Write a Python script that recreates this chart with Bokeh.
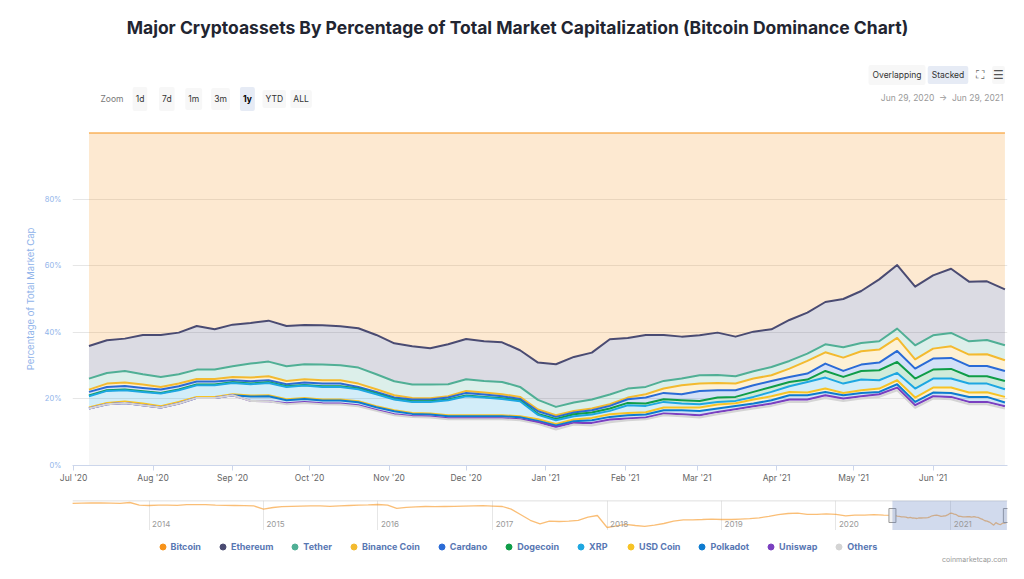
import numpy as np
import pandas as pd
from bokeh.plotting import figure
from bokeh.models import (ColumnDataSource, Range1d, FixedTicker, DatetimeTickFormatter,
                          MonthsTicker, Label, Legend, LegendItem, BoxAnnotation, Span, Grid)
from bokeh.layouts import column
from bokeh.embed import file_html
from bokeh.resources import INLINE
from bokeh.transform import stack

FONT = "Inter"

# ---------------- data (weekly shares, % of total market cap) ----------------
dates = pd.date_range("2020-07-07", periods=52, freq="7D")

btc = [64.1, 62.4, 61.9, 60.8, 60.8, 60.1, 58.1, 59.1, 57.7, 57.2, 56.5, 58.1, 57.8, 57.9, 58.2, 58.8,
       60.8, 63.3, 64.2, 64.8, 63.6, 62.0, 62.7, 63.0, 65.4, 69.1, 69.6, 67.4, 66.1, 62.1, 61.7, 60.8,
       60.8, 61.3, 60.9, 60.1, 61.3, 59.8, 59.1, 56.3, 54.1, 50.9, 50.0, 47.6, 44.1, 39.8, 46.3, 42.9,
       40.9, 44.8, 44.7, 47.1]
eth = [9.8, 9.8, 9.7, 11.8, 12.6, 12.5, 13.1, 12.1, 12.5, 12.2, 12.3, 12.1, 11.8, 11.8, 11.7, 11.8,
       11.8, 11.4, 11.5, 10.9, 12.0, 12.1, 11.9, 11.9, 11.0, 11.2, 12.8, 13.7, 14.1, 16.6, 15.2, 15.6,
       13.8, 12.6, 12.0, 12.7, 11.9, 11.9, 11.3, 12.3, 12.3, 12.7, 14.5, 15.6, 18.6, 19.1, 17.6, 18.0,
       19.3, 17.9, 17.6, 16.8]
tether = [3.3, 3.2, 3.5, 3.1, 3.0, 2.8, 2.8, 2.8, 3.2, 4.2, 4.4, 4.4, 4.5, 4.7, 4.5, 4.8,
          4.5, 4.2, 4.0, 4.1, 3.6, 3.5, 3.5, 3.7, 3.0, 2.9, 2.5, 2.5, 2.7, 2.9, 2.7, 2.2,
          2.3, 2.0, 2.5, 2.4, 2.2, 2.2, 2.5, 2.3, 2.2, 2.4, 3.1, 2.5, 2.5, 2.8, 4.2, 4.0,
          4.0, 4.0, 4.3, 4.5]
bnb = [0.7, 1.0, 1.0, 1.0, 0.8, 0.8, 0.8, 0.8, 1.0, 1.1, 1.2, 1.0, 1.0, 1.0, 1.0, 1.0,
       0.8, 0.7, 0.5, 0.4, 0.4, 0.6, 0.6, 0.6, 0.6, 0.5, 0.5, 0.5, 0.5, 0.5, 0.5, 1.0,
       1.3, 2.7, 2.2, 2.2, 2.0, 2.0, 1.7, 2.5, 3.8, 3.4, 4.0, 4.0, 3.9, 3.9, 2.8, 3.0,
       3.5, 3.4, 3.5, 3.2]
cardano = [1.1, 1.0, 1.1, 1.0, 1.0, 1.0, 0.9, 0.9, 0.6, 0.7, 0.6, 0.6, 0.7, 0.8, 0.8, 0.5,
           0.5, 0.4, 0.5, 0.5, 0.6, 0.8, 0.7, 0.6, 0.5, 0.8, 0.6, 0.5, 0.7, 0.8, 1.1, 1.8,
           1.9, 1.8, 3.0, 2.2, 2.0, 2.0, 1.8, 1.5, 1.8, 2.2, 1.8, 1.9, 2.3, 3.3, 3.0, 3.3,
           3.3, 3.1, 3.1, 3.0]
doge = [0.2, 0.2, 0.2, 0.2, 0.2, 0.2, 0.2, 0.2, 0.2, 0.2, 0.2, 0.2, 0.2, 0.2, 0.2, 0.2,
        0.2, 0.2, 0.2, 0.2, 0.2, 0.2, 0.2, 0.2, 0.2, 0.3, 0.4, 0.6, 0.6, 0.7, 0.7, 0.7,
        0.8, 1.0, 1.0, 1.3, 1.2, 1.5, 1.5, 1.3, 0.7, 2.0, 2.0, 2.6, 3.0, 3.3, 3.0, 2.7,
        2.9, 2.2, 2.2, 2.5]
xrp = [3.4, 3.6, 3.4, 3.5, 3.8, 3.5, 3.5, 3.5, 3.4, 3.4, 3.7, 3.7, 3.7, 3.8, 3.8, 3.6,
       3.6, 3.2, 3.3, 3.5, 4.5, 5.7, 5.3, 4.9, 4.5, 1.3, 1.1, 1.0, 1.0, 1.0, 2.3, 1.9,
       1.7, 1.2, 1.0, 0.8, 0.7, 0.8, 1.3, 1.7, 3.2, 3.3, 2.8, 3.2, 2.5, 2.2, 2.7, 2.7,
       2.7, 2.7, 2.6, 2.3]
usdc = [0.3, 0.4, 0.4, 0.5, 0.4, 0.5, 0.3, 0.3, 0.3, 0.3, 0.3, 0.3, 0.3, 0.3, 0.3, 0.3,
        0.3, 0.3, 0.3, 0.3, 0.3, 0.3, 0.3, 0.3, 0.3, 0.5, 0.5, 0.5, 0.7, 0.8, 0.7, 0.7,
        0.8, 0.8, 1.0, 1.2, 0.8, 1.2, 1.2, 1.0, 0.8, 1.0, 0.7, 0.8, 1.0, 1.2, 1.3, 1.5,
        1.6, 1.3, 1.4, 1.7]
polkadot = [0.0, 0.0, 0.0, 0.0, 0.0, 0.0, 0.0, 0.0, 0.0, 1.3, 1.5, 0.9, 0.9, 0.8, 0.9, 0.9,
            0.8, 0.9, 0.6, 0.6, 0.6, 0.6, 0.6, 0.6, 0.6, 0.4, 0.4, 0.5, 0.8, 0.8, 1.0, 0.9,
            1.0, 1.2, 1.3, 1.0, 1.0, 0.8, 1.0, 1.3, 1.3, 1.0, 1.0, 1.0, 0.7, 1.0, 1.0, 1.1,
            1.2, 1.5, 1.5, 1.1]
uniswap = [0.0, 0.0, 0.0, 0.0, 0.0, 0.0, 0.0, 0.0, 0.0, 0.0, 0.0, 0.3, 0.3, 0.3, 0.3, 0.3,
           0.3, 0.3, 0.3, 0.3, 0.3, 0.3, 0.3, 0.3, 0.3, 0.5, 0.8, 0.5, 0.8, 0.8, 0.5, 0.5,
           0.5, 0.6, 0.7, 0.7, 0.6, 0.7, 0.7, 0.7, 0.7, 0.8, 0.7, 0.7, 0.8, 0.8, 0.8, 0.7,
           0.7, 0.7, 0.7, 0.7]
others = [17.1, 18.4, 18.8, 18.1, 17.4, 18.6, 20.3, 20.3, 21.1, 19.4, 19.3, 18.4, 18.8, 18.4, 18.3, 17.8,
          16.4, 15.1, 14.6, 14.4, 13.9, 13.9, 13.9, 13.9, 13.6, 12.5, 10.8, 12.3, 12.0, 13.0, 13.6, 13.9,
          15.1, 14.8, 14.4, 15.4, 16.3, 17.1, 17.9, 19.1, 19.1, 20.3, 19.4, 20.1, 20.6, 22.6, 17.3, 20.1,
          19.9, 18.4, 18.4, 17.1]

series_names = ["Bitcoin", "Ethereum", "Tether", "Binance Coin", "Cardano", "Dogecoin",
                "XRP", "USD Coin", "Polkadot", "Uniswap", "Others"]
series_keys = ["btc", "eth", "tether", "bnb", "cardano", "doge", "xrp", "usdc", "polkadot", "uniswap", "others"]
series_values = [btc, eth, tether, bnb, cardano, doge, xrp, usdc, polkadot, uniswap, others]
series_colors = ["#f7931a", "#4a4b72", "#50af95", "#f3ba2f", "#2a6bd6", "#0f9d48",
                 "#1ea7e1", "#f7c325", "#0d7bd0", "#7a3fc0", "#d4d4d4"]

# Navigator: monthly Bitcoin dominance May 2013 - Jun 2020 (then the weekly series above)
nav_dates_hist = pd.date_range("2013-05-01", periods=86, freq="MS")
nav_btc_hist = [94.5, 95.0, 95.2, 95.5, 95.0, 94.5, 96.5, 90.0,
                89.0, 90.0, 90.0, 89.5, 91.0, 91.0, 91.0, 90.0, 89.5, 89.0, 88.5, 88.0,
                80.0, 84.0, 86.0, 87.0, 87.5, 88.0, 88.0, 87.0, 88.0, 89.0, 90.0, 90.5,
                91.5, 90.0, 82.0, 84.5, 85.5, 86.5, 86.0, 86.5, 87.0, 87.5, 88.0, 88.5,
                87.5, 86.5, 80.0, 66.0, 52.0, 43.0, 50.0, 49.0, 50.0, 52.0, 60.0, 64.0,
                34.0, 38.0, 42.0, 39.0, 37.0, 40.0, 44.0, 50.0, 53.0, 53.0, 54.0, 55.0,
                54.0, 54.0, 55.0, 56.0, 58.0, 62.0, 66.0, 69.0, 70.0, 67.0, 67.0, 68.0,
                67.0, 63.0, 65.0, 65.0, 66.0, 65.0]
nav_years = [2014, 2015, 2016, 2017, 2018, 2019, 2020, 2021]

y_ticks = [0, 20, 40, 60, 80, 100]
y_tick_labels = ["0%", "20%", "40%", "60%", "80%", ""]

zoom_buttons = ["1d", "7d", "1m", "3m", "1y", "YTD", "ALL"]
selected_zoom = "1y"
range_text = "Jun 29, 2020\u00a0\u00a0→\u00a0\u00a0Jun 29, 2021"

# ---------------- build data table (percent stacking) ----------------
df = pd.DataFrame({k: v for k, v in zip(series_keys, series_values)})
total = df.sum(axis=1)
for k in series_keys:
    df[k] = df[k] / total * 100.0
df["date"] = dates
src = ColumnDataSource(df)

bottom_to_top = list(reversed(series_keys))
colors_btt = list(reversed(series_colors))

W = 1024
FL, FR = 72, 1007          # page x of plot frame left / right (frames of the column are aligned)
HEAD_H, MAIN_H, NAV_H, FOOT_H = 130, 360, 40, 49


def blank_fig(h):
    f = figure(width=W, height=h, x_axis_type=None, y_axis_type=None,
               x_range=Range1d(0, 1), y_range=Range1d(0, 1),
               output_backend="svg", toolbar_location=None,
               min_border_left=FL, min_border_right=W - FR, min_border_top=0, min_border_bottom=0)
    f.outline_line_color = None
    f.grid.visible = False
    return f


def add_label(fig, fig_top, px, py, text, size, color, align="left", style="normal", bg=None, pad=0, font=FONT):
    """place text at page coords (px, py) inside a blank figure whose top is at page y fig_top"""
    kw = {}
    if bg is not None:
        kw["background_fill_color"] = bg
        kw["padding"] = pad
        kw["border_radius"] = 2
    h = fig.height
    fig.add_layout(Label(x=px - FL, y=h - (py - fig_top), x_units="screen", y_units="screen", text=text,
                         text_font=font, text_font_size=size, text_color=color,
                         text_align=align, text_baseline="middle", text_font_style=style, **kw))


# ---------------- header ----------------
head = blank_fig(HEAD_H)
add_label(head, 0, 517, 27, "Major Cryptoassets By Percentage of Total Market Capitalization (Bitcoin Dominance Chart)",
          "17.5px", "#222531", align="center", style="bold")
add_label(head, 0, 100, 98.5, "Zoom", "8.5px", "#777777")
btn_w = {"1d": 7, "7d": 7, "1m": 6, "3m": 6, "1y": 7, "YTD": 4, "ALL": 4}
for j, b in enumerate(zoom_buttons):
    cx = 139.5 + j * 26.85
    sel = (b == selected_zoom)
    add_label(head, 0, cx, 98.5, b, "8.5px", "#000000" if sel else "#333333", align="center",
              style="bold" if sel else "normal", bg="#e6ebf5" if sel else "#f7f7f7",
              pad=(3, btn_w[b]))
add_label(head, 0, 896.5, 74.5, "Overlapping", "8.5px", "#333333", align="center", bg="#f7f7f7", pad=(4, 5))
add_label(head, 0, 947.5, 74.5, "Stacked", "8.5px", "#333333", align="center", bg="#e6ebf5", pad=(4, 4))
add_label(head, 0, 979, 74.5, "⛶", "12px", "#666666", align="center", font="DejaVu Sans")
add_label(head, 0, 998, 74.5, "☰", "12px", "#555555", align="center", bg="#f7f7f7", pad=(1, 2), font="DejaVu Sans")
add_label(head, 0, 1003, 97.5, range_text, "8.5px", "#999999", align="right")

# ---------------- main chart ----------------
x_start = pd.Timestamp("2020-06-30 14:00")
x_end = pd.Timestamp("2021-06-30 00:00")

p = figure(width=W, height=MAIN_H, x_axis_type="datetime",
           x_range=Range1d(x_start, x_end), y_range=Range1d(0, 100),
           output_backend="svg", toolbar_location=None,
           min_border_left=FL, min_border_right=W - FR, min_border_top=2,
           min_border_bottom=HEAD_H + MAIN_H - 465)
p.outline_line_color = None

p.varea_stack(stackers=bottom_to_top, x="date", fill_color=colors_btt, fill_alpha=0.2, source=src)
for i in range(len(bottom_to_top) - 1, -1, -1):
    p.line(x="date", y=stack(*bottom_to_top[:i + 1]), source=src,
           line_color=colors_btt[i], line_width=2, line_join="round")

p.yaxis.ticker = FixedTicker(ticks=y_ticks)
p.yaxis.major_label_overrides = {t: l for t, l in zip(y_ticks, y_tick_labels)}
p.yaxis.axis_label = "Percentage of Total Market Cap"
p.yaxis.axis_label_text_font = FONT
p.yaxis.axis_label_text_font_style = "normal"
p.yaxis.axis_label_text_font_size = "9.5px"
p.yaxis.axis_label_text_color = "#8fb3ea"
p.yaxis.axis_label_standoff = 6
p.yaxis.major_label_text_font = FONT
p.yaxis.major_label_text_font_size = "7.5px"
p.yaxis.major_label_text_color = "#8fb3ea"
p.yaxis.major_label_standoff = 11
p.yaxis.major_tick_out = 0
p.yaxis.major_tick_in = 0
p.yaxis.axis_line_color = None
p.yaxis.major_tick_line_color = None
p.yaxis.minor_tick_line_color = None

p.xaxis.ticker = MonthsTicker(months=list(range(1, 13)))
p.xaxis.formatter = DatetimeTickFormatter(months="%b '%y", days="%b '%y")
p.xaxis.major_label_text_font = FONT
p.xaxis.major_label_text_font_size = "8.5px"
p.xaxis.major_label_text_color = "#666666"
p.xaxis.major_label_standoff = 2
p.xaxis.axis_line_color = "#ccd6eb"
p.xaxis.major_tick_line_color = "#ccd6eb"
p.xaxis.major_tick_out = 5
p.xaxis.major_tick_in = 0
p.xaxis.minor_tick_line_color = None

p.xgrid.grid_line_color = None
p.ygrid.grid_line_color = "#e6e6e6"

# ---------------- navigator ----------------
nav_dates = list(nav_dates_hist) + list(dates)
nav_vals = list(nav_btc_hist) + list(df["btc"])
nav_y0, nav_y1 = 26.5, 101.5
nav = figure(width=W, height=NAV_H, x_axis_type=None, y_axis_type=None,
             x_range=Range1d(pd.Timestamp("2013-05-02"), pd.Timestamp("2021-07-01")),
             y_range=Range1d(nav_y0, nav_y1),
             output_backend="svg", toolbar_location=None,
             min_border_left=FL, min_border_right=W - FR, min_border_top=10, min_border_bottom=0)
nav.outline_line_color = None

year_ms = [pd.Timestamp(f"{y}-01-01").value / 1e6 for y in nav_years]
nav.add_layout(Grid(dimension=0, ticker=FixedTicker(ticks=year_ms), grid_line_color="#e6e6e6"))
nav.add_layout(Span(location=nav_y1 - 0.6, dimension="width", line_color="#cccccc", line_width=1))
nav.line(x=nav_dates, y=nav_vals, line_color="#f7931a", line_alpha=0.6, line_width=1.3)

sel_start = pd.Timestamp("2020-06-29").value / 1e6
sel_end = pd.Timestamp("2021-06-29").value / 1e6
nav.add_layout(BoxAnnotation(left=sel_start, right=sel_end, fill_color="#6685c2", fill_alpha=0.3,
                             line_color=None))
nav.rect(x=[sel_start, sel_end], y=[(nav_y0 + nav_y1) / 2] * 2, width=7, height=14,
         width_units="screen", height_units="screen", fill_color="#f2f2f2", line_color="#999999")

for y, ms in zip(nav_years, year_ms):
    nav.add_layout(Label(x=ms, y=7, x_units="data", y_units="screen", x_offset=3, text=str(y),
                         text_font=FONT, text_font_size="8px", text_color="#999999",
                         text_baseline="middle"))

# ---------------- footer: legend + credit ----------------
FOOT_TOP = HEAD_H + MAIN_H + NAV_H
foot = blank_fig(FOOT_H)
items = []
for name, col in zip(series_names, series_colors):
    r = foot.scatter(x=[np.nan], y=[np.nan], marker="circle", size=6, fill_color=col, line_color=col)
    items.append(LegendItem(label=name, renderers=[r]))
legend = Legend(items=items, orientation="horizontal",
                location=(154.5 - FL, FOOT_H - (546 - FOOT_TOP) - 7.5),
                glyph_width=15, glyph_height=15, label_standoff=1, spacing=14,
                padding=0, margin=0, border_line_color=None, background_fill_alpha=0,
                label_text_font=FONT, label_text_font_size="9px", label_text_font_style="bold",
                label_text_color="#5877b3", label_height=15)
foot.add_layout(legend)
add_label(foot, FOOT_TOP, 1007, 559, "coinmarketcap.com", "7px", "#999999", align="right")

layout = column(head, p, nav, foot)
open("out.html", "w").write(file_html(layout, INLINE))
